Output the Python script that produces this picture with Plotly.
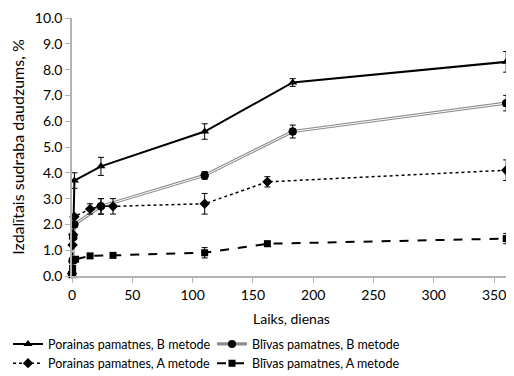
import plotly.graph_objects as go

# Data (days, %)
t_por_B = [0.04, 0.5, 1, 2, 24, 110, 183, 360]
y_por_B = [0.1, 0.6, 1.5, 3.7, 4.25, 5.6, 7.5, 8.3]
e_por_B = [0, 0, 0, 0.3, 0.35, 0.3, 0.15, 0.4]

t_bliv_B = [0.04, 0.5, 1, 2, 24, 110, 183, 360]
y_bliv_B = [0.1, 0.6, 1.5, 2.0, 2.7, 3.9, 5.6, 6.7]
e_bliv_B = [0, 0, 0, 0, 0.3, 0.15, 0.25, 0.3]

t_por_A = [0.04, 0.5, 1, 2, 15, 24, 34, 110, 162, 360]
y_por_A = [0.1, 1.2, 1.6, 2.3, 2.6, 2.7, 2.7, 2.8, 3.65, 4.1]
e_por_A = [0, 0, 0, 0, 0.2, 0.3, 0.3, 0.4, 0.2, 0.4]

t_bliv_A = [0.04, 0.5, 1, 3, 15, 34, 110, 162, 360]
y_bliv_A = [0.05, 0.3, 0.6, 0.65, 0.78, 0.8, 0.9, 1.25, 1.45]
e_bliv_A = [0, 0, 0, 0, 0, 0, 0.2, 0.1, 0.2]

x_ticks = [0, 50, 100, 150, 200, 250, 300, 350]
y_ticks = [0, 1, 2, 3, 4, 5, 6, 7, 8, 9, 10]

font = "Lato, Open Sans, sans-serif"

def err(e):
    return dict(type="data", array=e, visible=True, color="#000000", thickness=1, width=3)

fig = go.Figure()

fig.add_trace(go.Scatter(
    x=t_por_B, y=y_por_B, name="Porainas pamatnes, B metode", mode="lines+markers",
    line=dict(color="black", width=2), cliponaxis=False,
    marker=dict(symbol="triangle-up", size=8, color="black"),
    error_y=err(e_por_B)))

fig.add_trace(go.Scatter(
    x=t_bliv_B, y=y_bliv_B, name="Blīvas pamatnes, B metode", mode="lines+markers",
    line=dict(color="#8c8c8c", width=3.2), cliponaxis=False,
    marker=dict(symbol="circle", size=8, color="black"),
    error_y=err(e_bliv_B)))
fig.add_trace(go.Scatter(
    x=t_bliv_B, y=y_bliv_B, mode="lines", showlegend=False, hoverinfo="skip",
    line=dict(color="white", width=1), cliponaxis=False))
fig.add_trace(go.Scatter(
    x=t_bliv_B, y=y_bliv_B, mode="markers", showlegend=False, hoverinfo="skip",
    marker=dict(symbol="circle", size=8, color="black"), cliponaxis=False))

fig.add_trace(go.Scatter(
    x=t_por_A, y=y_por_A, name="Porainas pamatnes, A metode", mode="lines+markers",
    line=dict(color="black", width=1.5, dash="dot"), cliponaxis=False,
    marker=dict(symbol="diamond", size=8, color="black"),
    error_y=err(e_por_A)))

fig.add_trace(go.Scatter(
    x=t_bliv_A, y=y_bliv_A, name="Blīvas pamatnes, A metode", mode="lines+markers",
    line=dict(color="black", width=2, dash="dash"), cliponaxis=False,
    marker=dict(symbol="square", size=7, color="black"),
    error_y=err(e_bliv_A)))

fig.update_layout(
    width=506, height=368,
    margin=dict(l=64, r=3, t=10, b=100),
    paper_bgcolor="white", plot_bgcolor="white",
    font=dict(family=font, size=13, color="#000000"),
    showlegend=True,
    legend=dict(orientation="h", xref="container", yref="container", x=0, y=0.127,
                xanchor="left", yanchor="top",
                entrywidth=159, font=dict(size=12.5, family=font), tracegroupgap=0,
                itemwidth=30, bgcolor="rgba(0,0,0,0)"),
    xaxis=dict(range=[0, 364], tickvals=x_ticks, showgrid=False, zeroline=False,
               showline=True, linecolor="#b3b3b3", linewidth=1.5, automargin=False,
               ticks="outside", tickcolor="#b3b3b3", ticklen=5,
               tickfont=dict(size=14),
               title=dict(text="Laiks, dienas", font=dict(size=14), standoff=13)),
    yaxis=dict(range=[0, 10], tickvals=y_ticks, tickformat=".1f", showgrid=False,
               zeroline=False, showline=True, linecolor="#b3b3b3", linewidth=1.5,
               automargin=False,
               ticks="outside", tickcolor="#b3b3b3", ticklen=5,
               tickfont=dict(size=14),
               title=dict(text="Izdalītais sudraba daudzums, %", font=dict(size=16), standoff=13)),
)

fig.write_html("out.html")
